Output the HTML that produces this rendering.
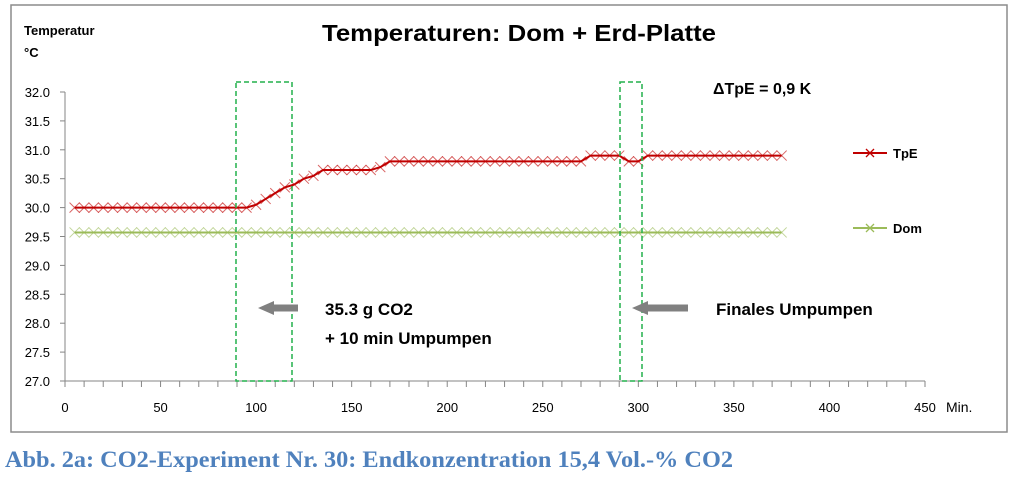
<!DOCTYPE html>
<html><head><meta charset="utf-8"><style>
body{margin:0;background:#fff;width:1013px;height:484px;overflow:hidden;font-family:"Liberation Sans",sans-serif}
svg text{font-family:"Liberation Sans",sans-serif}
</style></head><body>
<svg id="c" width="1013" height="484" xmlns="http://www.w3.org/2000/svg">
<rect x="11" y="5" width="996" height="427" fill="#fff" stroke="#8c8c8c" stroke-width="1.5"/>
<text x="322" y="41" textLength="394" lengthAdjust="spacingAndGlyphs" font-size="23" font-weight="bold">Temperaturen: Dom + Erd-Platte</text>
<text x="24" y="35" font-size="13" font-weight="bold">Temperatur</text>
<text x="24" y="57" font-size="13" font-weight="bold">°C</text>
<text x="713" y="94" font-size="16" font-weight="bold">ΔTpE = 0,9 K</text>
<text x="946" y="412" font-size="14">Min.</text>
<g id="axes"></g>
<g id="marks"></g>
<rect x="236" y="82" width="56" height="299" fill="none" stroke="#22b14c" stroke-width="1.5" stroke-dasharray="5,3"/>
<rect x="620" y="82" width="22" height="299" fill="none" stroke="#22b14c" stroke-width="1.5" stroke-dasharray="5,3"/>
<g><line x1="272" y1="308" x2="298" y2="308" stroke="#808080" stroke-width="7"/><polygon points="258,308 274,301 274,315" fill="#808080"/></g>
<text x="325" y="315" font-size="17" font-weight="bold">35.3 g CO2</text>
<text x="325" y="344" font-size="17" font-weight="bold">+ 10 min Umpumpen</text>
<g><line x1="646" y1="308" x2="688" y2="308" stroke="#808080" stroke-width="7"/><polygon points="632,308 648,301 648,315" fill="#808080"/></g>
<text x="716" y="315" font-size="17" font-weight="bold">Finales Umpumpen</text>
<g><line x1="853" y1="153" x2="887" y2="153" stroke="#c00000" stroke-width="2"/><path d="M866,149l8,8M874,149l-8,8" stroke="#c00000" stroke-width="1.3"/><text x="893" y="158" font-size="13" font-weight="bold">TpE</text></g>
<g><line x1="853" y1="228" x2="887" y2="228" stroke="#9bbb59" stroke-width="2"/><path d="M866,224l8,8M874,224l-8,8" stroke="#9bbb59" stroke-width="1.3"/><text x="893" y="233" font-size="13" font-weight="bold">Dom</text></g>
<text x="5" y="467" textLength="728" lengthAdjust="spacingAndGlyphs" font-size="23" font-weight="bold" fill="#4f81bd" style="font-family:'Liberation Serif',serif">Abb. 2a: CO2-Experiment Nr. 30: Endkonzentration 15,4 Vol.-% CO2</text>
</svg>
<script>
const times=[5,10,15,20,25,30,35,40,45,50,55,60,65,70,75,80,85,90,95,100,105,110,115,120,125,130,135,140,145,150,155,160,165,170,175,180,185,190,195,200,205,210,215,220,225,230,235,240,245,250,255,260,265,270,275,280,285,290,295,300,305,310,315,320,325,330,335,340,345,350,355,360,365,370,375];
const tpe=[30.0,30.0,30.0,30.0,30.0,30.0,30.0,30.0,30.0,30.0,30.0,30.0,30.0,30.0,30.0,30.0,30.0,30.0,30.0,30.05,30.15,30.25,30.35,30.4,30.5,30.55,30.65,30.65,30.65,30.65,30.65,30.65,30.7,30.8,30.8,30.8,30.8,30.8,30.8,30.8,30.8,30.8,30.8,30.8,30.8,30.8,30.8,30.8,30.8,30.8,30.8,30.8,30.8,30.8,30.9,30.9,30.9,30.9,30.8,30.8,30.9,30.9,30.9,30.9,30.9,30.9,30.9,30.9,30.9,30.9,30.9,30.9,30.9,30.9,30.9];
const dom=[29.57,29.57,29.57,29.57,29.57,29.57,29.57,29.57,29.57,29.57,29.57,29.57,29.57,29.57,29.57,29.57,29.57,29.57,29.57,29.57,29.57,29.57,29.57,29.57,29.57,29.57,29.57,29.57,29.57,29.57,29.57,29.57,29.57,29.57,29.57,29.57,29.57,29.57,29.57,29.57,29.57,29.57,29.57,29.57,29.57,29.57,29.57,29.57,29.57,29.57,29.57,29.57,29.57,29.57,29.57,29.57,29.57,29.57,29.57,29.57,29.57,29.57,29.57,29.57,29.57,29.57,29.57,29.57,29.57,29.57,29.57,29.57,29.57,29.57,29.57];
const xTicks=[0,50,100,150,200,250,300,350,400,450];
const yTicks=[27.0,27.5,28.0,28.5,29.0,29.5,30.0,30.5,31.0,31.5,32.0];
const NS="http://www.w3.org/2000/svg";
const X0=65,X1=925,Y0=381,Y1=92;
const xs=v=>X0+(v-0)/(450-0)*(X1-X0);
const ys=v=>Y0-(v-27)/(32-27)*(Y0-Y1);
function mk(t,a,p){const e=document.createElementNS(NS,t);for(const k in a)e.setAttribute(k,a[k]);p.appendChild(e);return e;}
const ax=document.getElementById('axes'),mg=document.getElementById('marks');
const yl=mk('line',{x1:X0,y1:Y1,x2:X0,y2:Y0,stroke:'#868686'},ax);


const xl=mk('line',{x1:X0,y1:Y0,x2:X1,y2:Y0,stroke:'#868686'},ax);


yTicks.forEach(v=>{mk('line',{x1:X0-5,y1:ys(v),x2:X0,y2:ys(v),stroke:'#868686'},ax);
const t=mk('text',{x:X0-15,y:ys(v)+5,'text-anchor':'end','font-size':13},ax);t.textContent=v.toFixed(1);

});
for(let m=0;m<=450;m+=10)mk('line',{x1:xs(m),y1:Y0,x2:xs(m),y2:Y0+6,stroke:'#868686'},ax);
xTicks.forEach(v=>{const t=mk('text',{x:xs(v),y:412,'text-anchor':'middle','font-size':13},ax);t.textContent=v;

});
function series(vals,col,name){
const g=mk('g',{},mg);


let d='';times.forEach((t,i)=>{d+=(i?'L':'M')+xs(t)+','+ys(vals[i]);});
mk('path',{d:d,fill:'none',stroke:col,'stroke-width':2},g);
times.forEach((t,i)=>{const x=xs(t),y=ys(vals[i]);
const p=mk('path',{d:`M${x-5},${y-5}L${x+5},${y+5}M${x+5},${y-5}L${x-5},${y+5}`,stroke:col,'stroke-width':1,opacity:0.6},g);

});
}
series(dom,'#9bbb59','series-dom');
series(tpe,'#c00000','series-tpe');
</script>
</body></html>
